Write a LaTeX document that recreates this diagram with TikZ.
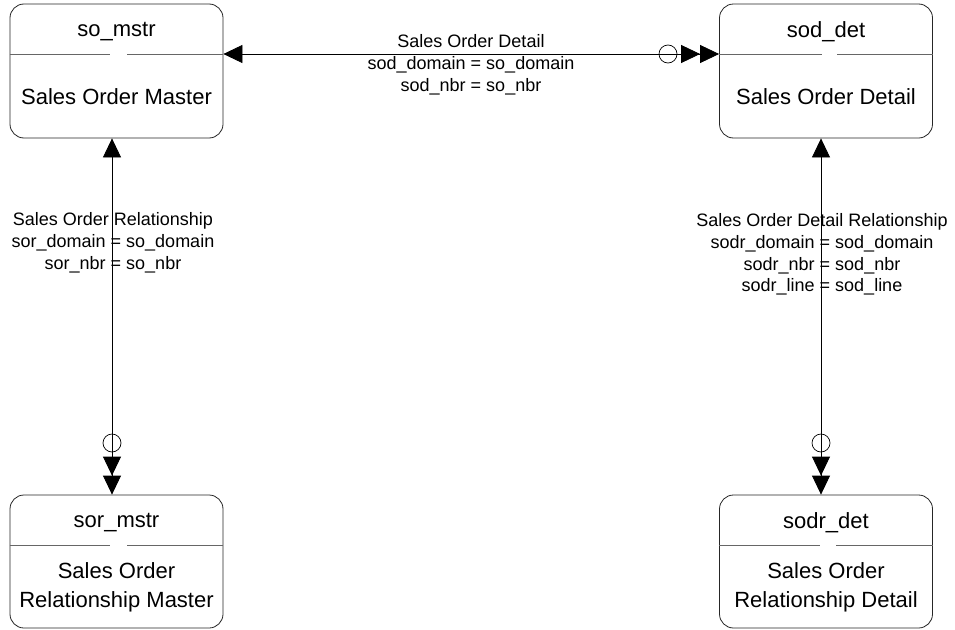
\documentclass[tikz,border=0pt]{standalone}
\usepackage{fontspec}
\setmainfont{Liberation Sans}
\usetikzlibrary{arrows.meta}
\tikzset{
  entbox/.style={draw=black!85, line width=0.8pt, rounded corners=14pt, minimum width=213pt, inner sep=0pt},
  boxtext/.style={font=\fontsize{22}{29}\selectfont, align=center, inner sep=0pt},
  lbl/.style={font=\fontsize{18}{21.8}\selectfont, align=center, inner sep=0pt},
  divider/.style={draw=black!60, line width=0.8pt},
  rel/.style={draw=black, line width=0.8pt},
  tri/.tip={Triangle[length=19pt,width=18pt]},
  ring/.style={circle, draw=black, line width=0.7pt, minimum size=18pt, inner sep=0pt}
}
\begin{document}
\begin{tikzpicture}[x=1pt,y=-1pt]
\useasboundingbox (0,0) rectangle (955,629);
% entity boxes
\node[entbox, minimum height=134pt] (so) at (116.5,71) {};
\node[entbox, minimum height=134pt] (sod) at (826,71) {};
\node[entbox, minimum height=133pt] (sor) at (116.5,561.5) {};
\node[entbox, minimum height=133pt] (sodr) at (826,561.5) {};
% titles
\node[boxtext] (so-t) at (116.5,32) {so\_mstr};
\node[boxtext] (sod-t) at (826,32) {sod\_det};
\node[boxtext] (sor-t) at (116.5,523) {sor\_mstr};
\node[boxtext] (sodr-t) at (826,523) {sodr\_det};
% bodies
\node[boxtext] (so-b) at (116.5,97) {Sales Order Master};
\node[boxtext] (sod-b) at (826,97) {Sales Order Detail};
\node[boxtext] (sor-b) at (116.5,587.5) {Sales Order\\Relationship Master};
\node[boxtext] (sodr-b) at (826,587.5) {Sales Order\\Relationship Detail};
% dividers with gap
\coordinate (dso) at (0,54);
\coordinate (dbot) at (0,545);
\draw[divider] (so.west |- dso) -- (110,54);
\draw[divider] (127,54) -- (so.east |- dso);
\draw[divider] (sod.west |- dso) -- (822,54);
\draw[divider] (837,54) -- (sod.east |- dso);
\draw[divider] (sor.west |- dbot) -- (110,545);
\draw[divider] (127,545) -- (sor.east |- dbot);
\draw[divider] (sodr.west |- dbot) -- (820,545);
\draw[divider] (836,545) -- (sodr.east |- dbot);
% connector guide coordinates
\coordinate (lx) at (112,0);
\coordinate (rx) at (821,0);
% connectors
\draw[rel, {tri}-{tri[sep=0pt] tri}] (so.east |- dso) -- (sod.west |- dso);
\draw[rel, {tri}-{tri[sep=0pt] tri}] (so.south -| lx) -- (sor.north -| lx);
\draw[rel, {tri}-{tri[sep=0pt] tri}] (sod.south -| rx) -- (sodr.north -| rx);
% optionality rings
\node[ring] (ring-top) at (668,54) {};
\node[ring] (ring-left) at (112,443) {};
\node[ring] (ring-right) at (821,443) {};
% labels
\node[lbl] (lab-top) at (471,65) {Sales Order Detail\\sod\_domain = so\_domain\\sod\_nbr = so\_nbr};
\node[lbl] (lab-left) at (113,243) {Sales Order Relationship\\sor\_domain = so\_domain\\sor\_nbr = so\_nbr};
\node[lbl] (lab-right) at (822,254.5) {Sales Order Detail Relationship\\sodr\_domain = sod\_domain\\sodr\_nbr = sod\_nbr\\sodr\_line = sod\_line};
\end{tikzpicture}
\end{document}
